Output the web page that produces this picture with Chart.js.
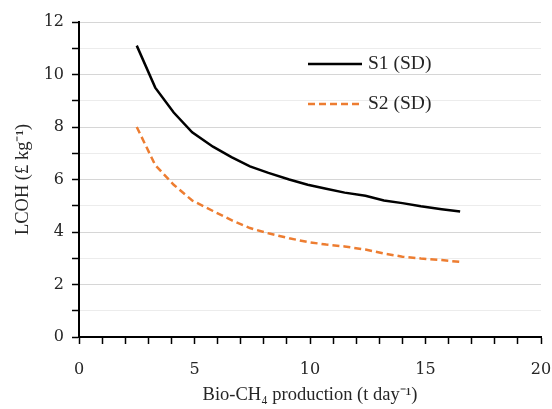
<!DOCTYPE html>
<html>
<head>
<meta charset="utf-8">
<script src="https://cdn.jsdelivr.net/npm/chart.js@4/dist/chart.umd.min.js"></script>
<style>
  html, body { margin: 0; padding: 0; background: #fff; }
  #wrap { width: 552px; height: 409px; }
</style>
</head>
<body>
<div id="wrap"><canvas id="chart"></canvas></div>
<script>
// production (t/day) and LCOH (£/kg)
const production = [2.5, 3.3, 4.1, 4.9, 5.8, 6.6, 7.4, 8.2, 9.1, 9.9, 10.7, 11.5, 12.4, 13.2, 14.0, 14.8, 15.7, 16.5];
const s1 = [11.1, 9.5, 8.55, 7.8, 7.25, 6.85, 6.5, 6.25, 6.0, 5.8, 5.65, 5.5, 5.38, 5.2, 5.1, 4.98, 4.87, 4.78];
const s2 = [8.0, 6.55, 5.8, 5.2, 4.8, 4.45, 4.15, 3.95, 3.76, 3.62, 3.52, 3.45, 3.33, 3.18, 3.06, 2.99, 2.93, 2.86];
const seriesLabels = ['S1 (SD)', 'S2 (SD)'];
const xLabels = [0, 5, 10, 15, 20];
const yLabels = [0, 2, 4, 6, 8, 10, 12];

const textColor = '#262626';
const tickFont = { family: 'DejaVu Serif', size: 16 };
const titleFont = { family: 'Liberation Serif', size: 18.5 };
const legendFont = { family: 'Liberation Serif', size: 19.5 };

const toPoints = ys => production.map((x, i) => ({ x: x, y: ys[i] }));

// legend drawn inside the plot, top right
const insideLegend = {
  id: 'insideLegend',
  afterDraw(chart) {
    const ctx = chart.ctx;
    const area = chart.chartArea;
    const x0 = area.left + 229, x1 = area.left + 283;
    chart.data.datasets.forEach((ds, i) => {
      const y = area.top + 42 + i * 40;
      ctx.save();
      ctx.strokeStyle = ds.borderColor;
      ctx.lineWidth = ds.borderWidth;
      ctx.setLineDash(ds.borderDash || []);
      ctx.beginPath();
      ctx.moveTo(x0, y);
      ctx.lineTo(x1, y);
      ctx.stroke();
      ctx.setLineDash([]);
      ctx.fillStyle = textColor;
      ctx.font = legendFont.size + 'px "' + legendFont.family + '"';
      ctx.textBaseline = 'middle';
      ctx.fillText(ds.label, x1 + 6, y);
      ctx.restore();
    });
  }
};

new Chart(document.getElementById('chart'), {
  type: 'line',
  data: {
    datasets: [
      {
        label: seriesLabels[0],
        data: toPoints(s1),
        borderColor: '#000000',
        borderWidth: 2.5,
        pointRadius: 0,
        tension: 0
      },
      {
        label: seriesLabels[1],
        data: toPoints(s2),
        borderColor: '#ED7D31',
        borderWidth: 2.5,
        borderDash: [7, 4],
        pointRadius: 0,
        tension: 0
      }
    ]
  },
  options: {
    responsive: true,
    maintainAspectRatio: false,
    animation: false,
    layout: { padding: { top: 22, right: 11, left: 12, bottom: 0 } },
    plugins: {
      legend: { display: false },
      tooltip: { enabled: false }
    },
    scales: {
      x: {
        type: 'linear',
        min: 0,
        max: 20,
        afterFit: s => { s.height = 72; s.paddingLeft = 0; s.paddingRight = 0; },
        border: { color: '#000', width: 2 },
        grid: { drawOnChartArea: false, drawTicks: true, tickLength: 7, tickColor: '#000', tickWidth: 1.5 },
        ticks: {
          stepSize: 1,
          autoSkip: false,
          maxRotation: 0,
          padding: 16,
          color: textColor,
          font: tickFont,
          callback: v => xLabels.includes(v) ? String(v) : ''
        },
        title: {
          display: true,
          text: 'Bio-CH\u2084 production (t day\u207B\u00B9)',
          color: textColor,
          font: titleFont,
          padding: { top: 0, bottom: 3 }
        }
      },
      y: {
        min: 0,
        max: 12,
        afterFit: s => { s.width = 67; s.paddingTop = 0; s.paddingBottom = 0; },
        border: { color: '#000', width: 2 },
        grid: {
          color: c => (yLabels.includes(c.tick.value) ? '#d6d6d6' : '#ececec'),
          lineWidth: 1,
          tickLength: 7,
          tickColor: '#000',
          tickWidth: 1.5
        },
        ticks: {
          stepSize: 1,
          autoSkip: false,
          padding: 8,
          color: textColor,
          font: tickFont,
          callback: v => yLabels.includes(v) ? String(v) : ''
        },
        title: {
          display: true,
          text: 'LCOH (\u00A3 kg\u207B\u00B9)',
          color: textColor,
          font: titleFont,
          padding: { top: 0, bottom: 0 }
        }
      }
    }
  },
  plugins: [insideLegend]
});
</script>
</body>
</html>
